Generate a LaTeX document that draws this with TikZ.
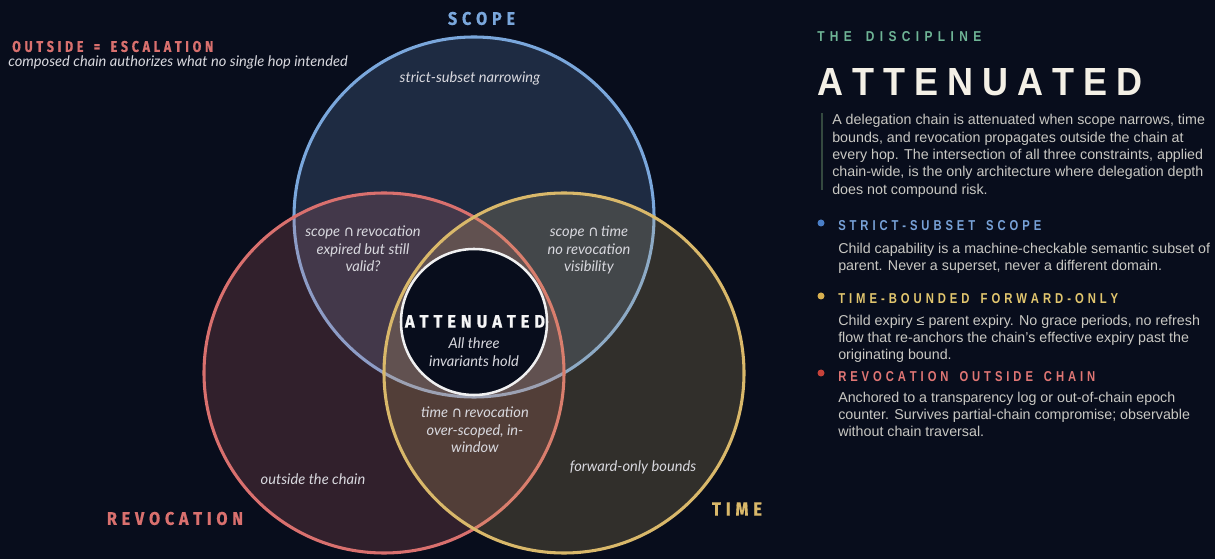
\documentclass[tikz,border=0pt]{standalone}
\usepackage{fontspec}
\usepackage{graphicx}
\setmainfont{Liberation Sans}
\newfontfamily\labelfont{Lato}
\newfontfamily\capsfont[BoldFeatures={FakeBold=0.8}]{Fira Sans}
\newfontfamily\symfont{DejaVu Sans}

\definecolor{bg}{HTML}{080D1C}
\definecolor{scopeblue}{HTML}{7AA7DC}
\definecolor{revred}{HTML}{D9706E}
\definecolor{timegold}{HTML}{D9B86A}
\definecolor{labelgrey}{HTML}{D8D8DE}
\definecolor{bodygrey}{HTML}{C9C8C3}
\definecolor{cream}{HTML}{F4F0E6}
\definecolor{sage}{HTML}{6FB596}
\definecolor{barline}{HTML}{34493F}
\definecolor{dotblue}{HTML}{4A7FC8}
\definecolor{dotgold}{HTML}{D8B050}
\definecolor{dotred}{HTML}{C7423A}
\definecolor{headblue}{HTML}{78A2D8}
\definecolor{headgold}{HTML}{E2C66E}
\definecolor{headred}{HTML}{E07674}

% letter-spaced capitals: gap between every token, none after the last
\makeatletter
\newcommand\tracked[2]{\def\tr@sep{}\@tfor\tr@c:=#2\do{\tr@sep\tr@c\def\tr@sep{\hspace*{#1}}}}
\makeatother
% tracked capitals fitted to a given width and cap height
\newcommand\capsfit[4]{\resizebox{#1}{#2}{\tracked{#3}{#4}}}

\tikzset{
  venn/.style={circle, minimum size=270pt, inner sep=0pt, line width=2.3pt,
    fill opacity=0.2, draw opacity=1},
  lbl/.style={inner sep=0pt, text=labelgrey, align=center,
    font={\labelfont\itshape\fontsize{11pt}{13.1pt}\selectfont}},
  capsnode/.style={inner sep=0pt, font={\capsfont\bfseries}},
  headnode/.style={inner sep=0pt, anchor=west, font={\bfseries}},
  body/.style={anchor=base west, inner sep=0pt, text=bodygrey,
    font={\fontsize{10.7pt}{13pt}\selectfont}},
  bullet/.style={circle, inner sep=0pt, minimum size=5.25pt},
}

\begin{document}
\begin{tikzpicture}[x=0.75pt, y=-0.75pt]
  % canvas
  \fill[bg] (0,0) rectangle (1215,559);
  \useasboundingbox (0,0) rectangle (1215,559);

  % the three constraint circles
  \node[venn, draw=scopeblue, fill=scopeblue] (scope) at (474,217) {};
  \node[venn, draw=revred, fill=revred] (revocation) at (384,373) {};
  \node[venn, draw=timegold, fill=timegold] (time) at (564,373) {};

  % the core where all three hold
  \node[circle, minimum size=109.5pt, inner sep=0pt, line width=1.9pt,
        draw=white!94!bg, fill=bg] (core) at (474,322) {};

  % circle titles
  \node[capsnode, text=scopeblue] (scopetitle) at (481.5,18.5)
    {\capsfit{50.25pt}{9.75pt}{0.3em}{SCOPE}};
  \node[capsnode, text=revred] (revtitle) at (175,518.5)
    {\capsfit{102pt}{9.75pt}{0.3em}{REVOCATION}};
  \node[capsnode, text=timegold] (timetitle) at (737,509)
    {\capsfit{37.5pt}{10pt}{0.3em}{TIME}};
  \node[capsnode, text=white!96!bg] (coretitle) at (475,321.5)
    {\capsfit{105pt}{9.4pt}{0.3em}{ATTENUATED}};

  % escalation note
  \node[capsnode, text=revred, anchor=west] (escal) at (12,46.5)
    {\capsfit{150.75pt}{8.25pt}{0.3em}{OUTSIDE~=~ESCALATION}};
  \node[lbl, anchor=west] (escalnote) at (8,62)
    {composed chain authorizes what no single hop intended};

  % region labels
  \node[lbl] (scopeonly) at (470,78) {strict-subset narrowing};
  \node[lbl] (scoperev) at (363,249)
    {scope {\symfont ∩}\thinspace revocation\\expired but still\\valid?};
  \node[lbl] (scopetime) at (589,250)
    {scope {\symfont ∩}\thinspace time\\no revocation\\visibility};
  \node[lbl] (coresub) at (474,352) {All three\\invariants hold};
  \node[lbl] (timerev) at (475,430)
    {time {\symfont ∩}\thinspace revocation\\over-scoped, in-\\window};
  \node[lbl] (revonly) at (313,479) {outside the chain};
  \node[lbl] (timeonly) at (633,467) {forward-only bounds};

  % side panel
  \node[headnode, text=sage] (kicker) at (817,37)
    {\capsfit{123pt}{7.5pt}{0.45em}{THE~DISCIPLINE}};
  \node[headnode, text=cream] (title) at (817,82.5)
    {\capsfit{243.75pt}{20.25pt}{0.25em}{ATTENUATED}};

  \coordinate (bartop) at (822,113);
  \coordinate (barbot) at (822,190);
  \draw[barline, line width=1.5pt] (bartop) -- (barbot);

  \node[body] (intro1) at (832,125.0) {A delegation chain is attenuated when scope narrows, time};
  \node[body] (intro2) at (832,142.3) {bounds, and revocation propagates outside the chain at};
  \node[body] (intro3) at (832,159.6) {every hop. The intersection of all three constraints, applied};
  \node[body] (intro4) at (832,176.9) {chain-wide, is the only architecture where delegation depth};
  \node[body] (intro5) at (832,194.2) {does not compound risk.};

  % invariant: scope
  \node[bullet, fill=dotblue] (dotscope) at (821,223) {};
  \node[headnode, text=headblue] (headscope) at (838,226)
    {\capsfit{152.25pt}{7.5pt}{0.35em}{STRICT-SUBSET~SCOPE}};
  \node[body] (scope1) at (838,254) {Child capability is a machine-checkable semantic subset of};
  \node[body] (scope2) at (838,271) {parent. Never a superset, never a different domain.};

  % invariant: time
  \node[bullet, fill=dotgold] (dottime) at (821,296) {};
  \node[headnode, text=headgold] (headtime) at (838,299)
    {\capsfit{210pt}{7.5pt}{0.35em}{TIME-BOUNDED~FORWARD-ONLY}};
  \node[body] (time1) at (838,326) {Child expiry ≤ parent expiry. No grace periods, no refresh};
  \node[body] (time2) at (838,343) {flow that re-anchors the chain's effective expiry past the};
  \node[body] (time3) at (838,360) {originating bound.};

  % invariant: revocation
  \node[bullet, fill=dotred] (dotrev) at (821,373) {};
  \node[headnode, text=headred] (headrev) at (838,377)
    {\capsfit{192.75pt}{7.5pt}{0.35em}{REVOCATION~OUTSIDE~CHAIN}};
  \node[body] (rev1) at (838,403) {Anchored to a transparency log or out-of-chain epoch};
  \node[body] (rev2) at (838,420) {counter. Survives partial-chain compromise; observable};
  \node[body] (rev3) at (838,437) {without chain traversal.};
\end{tikzpicture}
\end{document}
